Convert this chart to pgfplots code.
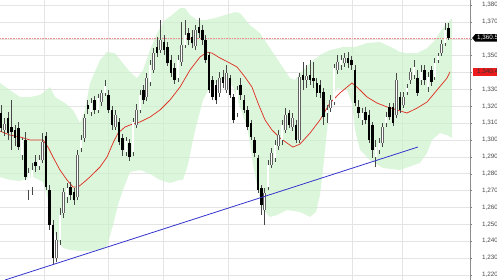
\documentclass[border=0pt]{standalone}
\usepackage{pgfplots}
\pgfplotsset{compat=1.18}
\usepackage{pgfplotstable}
\usepgfplotslibrary{fillbetween}
\usepackage{fontspec}
\setmainfont{Liberation Sans}
\definecolor{bandgreen}{RGB}{204,242,204}
\definecolor{gridgray}{RGB}{228,228,228}
\definecolor{maRed}{RGB}{222,52,38}
\definecolor{trendBlue}{RGB}{52,52,204}
\definecolor{tagRed}{RGB}{236,28,28}
\definecolor{dotRed}{RGB}{240,140,140}

\pgfplotstableread{
i o h l c
0 1316.0 1320.7 1304.7 1307.1
1 1305.9 1313.0 1302.4 1309.5
2 1313.0 1316.6 1300.0 1304.1
3 1307.7 1323.7 1293.9 1304.7
4 1305.9 1308.9 1296.5 1301.2
5 1307.1 1310.7 1294.1 1295.9
6 1291.1 1301.2 1288.1 1300.0
7 1300.0 1304.7 1276.3 1278.1
8 1270.4 1283.4 1264.4 1280.5
9 1272.1 1286.4 1267.4 1282.2
10 1287.0 1291.1 1281.0 1284.6
11 1284.6 1291.1 1282.2 1288.1
12 1288.1 1304.1 1286.4 1298.8
13 1302.4 1304.7 1270.4 1272.1
14 1270.4 1273.3 1246.7 1249.6
15 1249.6 1252.6 1226.0 1230.1
16 1230.1 1245.5 1227.7 1240.7
17 1240.7 1259.7 1237.8 1255.5
18 1256.7 1271.6 1253.8 1269.2
19 1266.2 1274.5 1262.6 1271.6
20 1272.1 1275.1 1264.4 1267.4
21 1269.2 1271.6 1261.5 1264.4
22 1266.2 1294.1 1264.4 1291.1
23 1295.3 1303.0 1292.9 1300.0
24 1301.2 1315.4 1298.8 1313.0
25 1320.7 1323.7 1315.4 1318.4
26 1316.6 1324.9 1314.2 1322.0
27 1323.7 1326.1 1315.4 1317.8
28 1317.8 1327.3 1316.0 1324.9
29 1322.5 1329.6 1320.1 1327.9
30 1327.9 1335.6 1326.1 1332.0
31 1326.7 1329.6 1316.0 1317.8
32 1317.8 1320.1 1305.9 1308.9
33 1307.7 1317.8 1305.9 1314.8
34 1310.7 1313.0 1297.0 1298.8
35 1301.2 1303.6 1290.5 1294.1
36 1292.9 1301.8 1290.5 1299.4
37 1298.2 1300.6 1287.6 1290.0
38 1292.9 1313.0 1290.5 1310.7
39 1308.9 1321.3 1307.1 1317.8
40 1317.8 1329.6 1316.0 1326.7
41 1329.6 1332.6 1321.3 1323.7
42 1325.5 1339.7 1323.1 1336.7
43 1334.4 1347.4 1332.0 1344.4
44 1341.5 1354.5 1339.7 1351.5
45 1355.1 1361.0 1349.2 1351.5
46 1353.3 1371.1 1351.5 1359.3
47 1358.1 1362.2 1350.4 1353.3
48 1355.1 1358.1 1343.9 1345.6
49 1347.4 1350.4 1337.3 1339.7
50 1342.7 1345.6 1333.2 1335.6
51 1336.7 1350.4 1334.4 1347.4
52 1346.2 1370.0 1343.9 1356.3
53 1356.3 1371.1 1354.5 1362.2
54 1363.4 1366.4 1356.3 1359.3
55 1361.0 1365.2 1354.5 1357.5
56 1355.7 1368.1 1353.3 1365.2
57 1367.0 1372.3 1360.4 1363.4
58 1365.2 1368.1 1356.3 1359.3
59 1359.3 1362.2 1345.6 1347.4
60 1350.4 1352.1 1327.9 1329.6
61 1335.6 1338.0 1323.7 1325.5
62 1332.6 1335.6 1321.3 1323.7
63 1327.9 1340.3 1325.5 1336.7
64 1337.3 1341.5 1330.8 1333.8
65 1329.6 1344.4 1327.9 1339.7
66 1336.7 1338.5 1324.9 1326.7
67 1325.5 1327.3 1310.1 1311.9
68 1316.0 1332.0 1313.6 1329.6
69 1332.6 1336.7 1323.7 1326.7
70 1323.7 1326.7 1316.0 1317.8
71 1317.8 1320.1 1305.9 1307.7
72 1310.1 1311.9 1300.0 1301.8
73 1300.0 1301.8 1290.0 1292.3
74 1289.3 1291.1 1268.6 1270.4
75 1271.5 1273.3 1255.5 1261.5
76 1258.5 1271.6 1249.6 1268.6
77 1272.1 1288.1 1270.4 1285.2
78 1285.2 1295.3 1283.4 1292.3
79 1289.3 1300.0 1287.0 1297.0
80 1296.5 1305.9 1294.1 1303.0
81 1300.0 1311.9 1297.0 1308.9
82 1305.9 1319.0 1304.1 1314.8
83 1316.0 1317.8 1307.1 1308.9
84 1307.7 1316.0 1305.3 1313.0
85 1308.9 1311.9 1298.2 1300.0
86 1300.0 1339.7 1298.2 1337.3
87 1338.5 1346.2 1329.6 1335.6
88 1335.6 1344.4 1330.8 1338.0
89 1338.5 1347.4 1332.6 1335.6
90 1336.7 1346.2 1330.8 1335.0
91 1333.8 1336.7 1325.5 1327.9
92 1332.6 1335.6 1324.9 1327.9
93 1328.4 1330.8 1308.9 1313.6
94 1316.0 1320.7 1310.1 1317.8
95 1319.0 1326.7 1316.6 1323.7
96 1322.5 1345.0 1320.7 1342.7
97 1341.5 1350.4 1339.1 1346.2
98 1344.4 1350.4 1341.5 1347.4
99 1345.6 1351.5 1343.3 1348.6
100 1348.6 1352.1 1342.7 1345.6
101 1347.4 1349.8 1341.5 1344.4
102 1341.5 1344.4 1320.1 1322.0
103 1319.6 1323.7 1313.0 1316.0
104 1311.9 1319.0 1308.9 1316.0
105 1316.6 1319.6 1309.5 1311.9
106 1314.8 1317.8 1298.2 1300.0
107 1308.9 1310.7 1289.3 1294.1
108 1290.0 1300.0 1284.0 1295.9
109 1294.1 1301.2 1291.7 1298.2
110 1298.2 1310.1 1295.9 1307.7
111 1310.1 1316.6 1307.7 1313.6
112 1319.6 1322.0 1311.9 1313.6
113 1319.6 1322.0 1308.3 1310.1
114 1314.8 1339.7 1313.0 1335.6
115 1325.5 1328.4 1316.0 1317.8
116 1320.7 1328.4 1319.0 1325.5
117 1328.4 1333.2 1326.7 1330.8
118 1335.6 1342.7 1333.2 1340.3
119 1338.5 1347.4 1336.1 1343.3
120 1336.7 1341.5 1326.1 1327.9
121 1335.6 1344.4 1332.6 1340.3
122 1341.5 1344.4 1332.6 1335.6
123 1331.4 1340.3 1328.4 1337.3
124 1341.5 1343.9 1332.0 1334.4
125 1337.3 1348.6 1335.6 1345.6
126 1347.4 1351.5 1345.6 1349.8
127 1351.5 1359.3 1349.8 1356.9
128 1357.5 1369.3 1355.7 1365.2
129 1366.4 1369.3 1359.3 1360.5
}\candles

\begin{document}
\begin{tikzpicture}
\begin{axis}[
  at={(0,0)}, anchor=south west,
  scale only axis, width=470pt, height=280pt,
  xmin=-0.29, xmax=135.16, ymin=1217, ymax=1383,
  axis x line*=bottom, axis y line*=right,
  x axis line style={draw=none},
  y axis line style={black!45, line width=0.5pt},
  xtick={12.39,30.84,46.69,65.42,101.15,115.56},
  xticklabels={},
  xtick style={draw=none},
  ytick={1220,1230,...,1380},
  yticklabels={{1,220},{1,230},{1,240},{1,250},{1,260},{1,270},{1,280},{1,290},{1,300},{1,310},{1,320},{1,330},{},{1,350},{},{1,370},{1,380}},
  ytick style={black!50, line width=0.4pt},
  tick align=outside, major tick length=2pt,
  xmajorgrids, ymajorgrids,
  major grid style={gridgray, line width=0.5pt},
  yticklabel style={font=\fontsize{6.3}{7}\selectfont, text=black!72, anchor=west, inner sep=0pt, xshift=10pt},
  clip=true,
]
% Bollinger bands
\addplot[name path=up, draw=none, forget plot] coordinates {
(-0.29,1333.8) (2.59,1329.6) (5.48,1325.5) (8.36,1325.5) (11.24,1326.7) (14.12,1331.4)
(15.56,1325.5) (18.44,1321.9) (20.75,1317.8) (22.77,1310.1) (24.21,1317.8) (25.65,1333.8)
(28.53,1347.4) (30.55,1352.1) (32.85,1351.5) (34.87,1346.2) (37.18,1340.3) (39.19,1336.7)
(40.92,1341.5) (42.94,1353.3) (44.96,1363.4) (47.26,1371.1) (49.28,1374.1) (51.59,1378.2)
(53.03,1378.2) (54.47,1374.1) (56.48,1371.1) (58.79,1371.1) (61.67,1372.3) (64.55,1374.1)
(67.44,1375.8) (68.88,1375.3) (71.76,1368.1) (74.64,1363.4) (77.52,1354.5) (80.40,1345.6)
(83.29,1336.7) (84.73,1335.6) (86.17,1339.7) (89.05,1345.6) (91.93,1350.4) (94.81,1353.3)
(98.56,1355.1) (102.0,1355.1) (105.5,1357.5) (109.2,1358.1) (113.0,1354.5) (115.0,1352.1)
(117.0,1351.5) (119.9,1351.5) (122.8,1354.5) (125.1,1359.3) (126.5,1364.0) (128.0,1368.1)
(130.0,1372.3)};
\addplot[name path=lo, draw=none, forget plot] coordinates {
(-0.29,1278.1) (2.59,1276.3) (5.48,1275.7) (9.22,1278.1) (12.10,1275.1) (13.26,1267.4)
(14.70,1249.6) (16.14,1240.7) (17.87,1236.0) (19.88,1234.8) (22.77,1234.2) (25.65,1234.2)
(28.53,1234.8) (30.55,1237.2) (32.28,1249.6) (33.72,1261.5) (35.16,1270.4) (37.18,1281.0)
(40.06,1282.2) (42.94,1279.9) (45.82,1276.3) (48.70,1274.5) (51.59,1276.3) (52.45,1276.3)
(53.89,1285.2) (55.33,1300.0) (56.48,1310.1) (58.21,1323.7) (60.23,1331.4) (63.11,1335.6)
(65.13,1336.7) (66.86,1331.4) (68.88,1319.6) (70.89,1307.7) (71.76,1298.2) (72.62,1285.2)
(74.06,1270.4) (75.50,1258.5) (77.52,1254.4) (79.54,1255.5) (82.42,1258.5) (86.17,1257.3)
(89.05,1254.4) (90.78,1257.3) (91.93,1267.4) (92.80,1282.2) (93.66,1300.0) (94.81,1320.7)
(96.83,1330.8) (99.71,1329.6) (101.15,1321.9) (102.02,1305.9) (103.46,1294.1) (106.34,1288.1)
(110.09,1283.4) (114.99,1282.2) (120.75,1286.4) (122.77,1292.3) (124.21,1300.0) (126.51,1304.1)
(128.53,1302.9) (130.0,1301.2)};
\addplot[fill=bandgreen, fill opacity=0.68, draw=none, forget plot] fill between[of=up and lo];
% last price line
\addplot[dotRed, densely dotted, line width=0.6pt, forget plot] coordinates {(-0.29,1360.5) (135.16,1360.5)};
% moving average
\addplot[maRed, line width=0.75pt, forget plot] coordinates {
(-0.29,1305.3) (2.59,1302.9) (5.48,1301.8) (8.36,1300.0) (12.10,1300.0) (13.54,1295.8)
(14.99,1289.9) (17.00,1282.2) (19.02,1276.3) (20.75,1272.1) (22.19,1272.1) (23.63,1274.5)
(25.65,1278.1) (28.53,1284.0) (30.55,1289.9) (32.28,1298.2) (33.72,1304.1) (35.73,1307.7)
(37.18,1308.9) (40.06,1310.7) (42.94,1313.6) (45.82,1317.8) (48.70,1323.7) (51.59,1331.4)
(54.47,1341.5) (57.35,1349.2) (59.37,1352.1) (60.81,1351.5) (63.11,1348.6) (65.42,1346.2)
(68.01,1343.3) (70.32,1337.3) (72.33,1331.4) (74.06,1321.9) (76.08,1311.9) (78.10,1305.9)
(80.40,1301.2) (82.42,1298.2) (84.15,1295.8) (86.17,1297.6) (89.05,1304.1) (91.93,1311.9)
(94.81,1321.9) (97.69,1327.9) (101.15,1333.8) (102.88,1330.8) (105.48,1325.5) (108.36,1321.9)
(111.24,1319.6) (114.12,1317.8) (117.00,1316.0) (119.88,1318.9) (122.77,1322.5) (125.65,1329.6)
(128.53,1336.7) (129.39,1340.4)};
% wicks
\addplot[draw=none, mark=none, forget plot,
  error bars/.cd, y dir=plus, y explicit, error mark=none,
  error bar style={draw=black!72, line width=0.55pt}]
  table[x=i, y=l, y error plus expr={\thisrow{h}-\thisrow{l}}] {\candles};
% body outlines
\addplot[draw=none, mark=none, forget plot,
  error bars/.cd, y dir=plus, y explicit, error mark=none,
  error bar style={draw=black!62, line width=2.5pt}]
  table[x=i, y expr={min(\thisrow{o},\thisrow{c})-0.15}, y error plus expr={abs(\thisrow{o}-\thisrow{c})+0.3}] {\candles};
% white bodies
\addplot[draw=none, mark=none, forget plot,
  error bars/.cd, y dir=plus, y explicit, error mark=none,
  error bar style={draw=white, line width=1.5pt}]
  table[x=i, y expr={\thisrow{o}+0.2}, y error plus expr={max(\thisrow{c}-\thisrow{o}-0.4,0)}] {\candles};
% black bodies
\addplot[draw=none, mark=none, forget plot,
  error bars/.cd, y dir=plus, y explicit, error mark=none,
  error bar style={draw=black, line width=2.5pt}]
  table[x=i, y=c, y error plus expr={max(\thisrow{o}-\thisrow{c},0)}] {\candles};
% trend line
\addplot[trendBlue, line width=0.8pt, forget plot] coordinates {(1.15,1217.0) (120.17,1295.85)};
\coordinate (t1) at (axis cs:135.16,1360.5);
\coordinate (t2) at (axis cs:135.16,1340.4);
\end{axis}
\fill[black] ([xshift=2.2pt]t1) -- ++(3pt,3.7pt) -- ++(40pt,0) -- ++(0,-7.4pt) -- ++(-40pt,0) -- cycle;
\node[anchor=west, inner sep=0pt, text=white, font=\fontsize{6.3}{7}\selectfont] at ([xshift=6.8pt]t1) {1,360.5};
\fill[tagRed] ([xshift=3pt,yshift=-3.7pt]t2) rectangle ++(40pt,7.4pt);
\node[anchor=west, inner sep=0pt, text=black!80, font=\fontsize{6.3}{7}\selectfont] at ([xshift=6.8pt]t2) {1,340.4};
\pgfresetboundingbox
\useasboundingbox (0,0) rectangle (497pt,280pt);
\end{tikzpicture}
\end{document}
